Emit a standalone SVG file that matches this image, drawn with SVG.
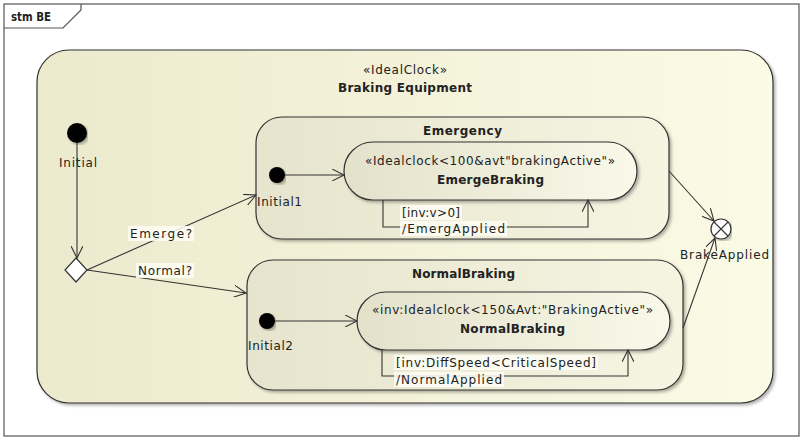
<svg xmlns="http://www.w3.org/2000/svg" width="804" height="440" viewBox="0 0 804 440">
<style>
text{font-family:"DejaVu Sans","Liberation Sans",sans-serif;font-size:12px;fill:#222}
.b{font-weight:bold}
.st{stroke:#333;stroke-width:1.2}
.ln{fill:none;stroke:#333;stroke-width:1.1}
.lbl{fill:#fdfdf4;opacity:0.85}
</style>
<defs>
<linearGradient id="gOuter" x1="0" y1="0" x2="1" y2="0">
<stop offset="0" stop-color="#eceacd"/><stop offset="1" stop-color="#fbfbe6"/>
</linearGradient>
<linearGradient id="gComp" x1="0" y1="0" x2="1" y2="0">
<stop offset="0" stop-color="#e6e4cc"/><stop offset="1" stop-color="#f6f5e2"/>
</linearGradient>
<linearGradient id="gSimple" x1="0" y1="0" x2="1" y2="0">
<stop offset="0" stop-color="#e3e1ca"/><stop offset="1" stop-color="#f9f9ea"/>
</linearGradient>
<filter id="sh" x="-5%" y="-5%" width="110%" height="115%">
<feDropShadow dx="2" dy="2" stdDeviation="1.5" flood-color="#000" flood-opacity="0.3"/>
</filter>
<marker id="arr" markerWidth="14" markerHeight="12" refX="12" refY="6" orient="auto" markerUnits="userSpaceOnUse">
<path d="M0,0 L12,6 L0,12" fill="none" stroke="#333" stroke-width="1.1"/>
</marker>
</defs>
<rect x="0" y="0" width="804" height="440" fill="#fff"/>
<g id="frame">
<rect x="4" y="4" width="795" height="432" fill="#fff" stroke="#555" stroke-width="1.2"/>
<path d="M4,28 H63 L81,10 V4" fill="none" stroke="#555" stroke-width="1.2"/>
<text x="11" y="21" class="b" textLength="40" lengthAdjust="spacingAndGlyphs">stm BE</text>
</g>
<g id="BrakingEquipment">
<rect x="37" y="50" width="736" height="353" rx="32" ry="32" fill="url(#gOuter)" class="st" filter="url(#sh)"/>
<text x="363" y="74" textLength="84">«IdealClock»</text>
<text x="338" y="92" class="b" textLength="134">Braking Equipment</text>
</g>
<g id="Initial">
<circle cx="77" cy="133" r="10" fill="#000" filter="url(#sh)"/>
<text x="59" y="167" textLength="38">Initial</text>
</g>
<g id="Decision">
<path d="M76,258 L87,270 L76,282 L65,270 Z" fill="#fff" class="st"/>
</g>
<g id="Emergency">
<rect x="256" y="117" width="413" height="122" rx="26" ry="26" fill="url(#gComp)" class="st" filter="url(#sh)"/>
<text x="423" y="135" class="b" textLength="79">Emergency</text>
</g>
<g id="EmergeBraking">
<rect x="344" y="142" width="293" height="58" rx="29" ry="29" fill="url(#gSimple)" class="st" filter="url(#sh)"/>
<text x="365" y="165" textLength="250">«Idealclock&lt;100&amp;avt"brakingActive"»</text>
<text x="437" y="184" class="b" textLength="107">EmergeBraking</text>
</g>
<g id="Initial1">
<circle cx="277" cy="175" r="8" fill="#000" filter="url(#sh)"/>
<text x="257" y="206" textLength="45">Initial1</text>
</g>
<g id="NormalBrakingComposite">
<rect x="247" y="260" width="436" height="130" rx="26" ry="26" fill="url(#gComp)" class="st" filter="url(#sh)"/>
<text x="412" y="278" class="b" textLength="103">NormalBraking</text>
</g>
<g id="NormalBraking">
<rect x="357" y="292" width="313" height="58" rx="29" ry="29" fill="url(#gSimple)" class="st" filter="url(#sh)"/>
<text x="372" y="314" textLength="281">«inv:Idealclock&lt;150&amp;Avt:"BrakingActive"»</text>
<text x="460" y="333" class="b" textLength="105">NormalBraking</text>
</g>
<g id="Initial2">
<circle cx="267" cy="321" r="8" fill="#000" filter="url(#sh)"/>
<text x="248" y="350" textLength="45">Initial2</text>
</g>
<g id="BrakeApplied">
<circle cx="721" cy="229" r="10" fill="#fff" class="st" filter="url(#sh)"/>
<path d="M714,222 L728,236 M728,222 L714,236" class="ln"/>
<text x="680" y="259" textLength="89">BrakeApplied</text>
</g>
<g id="connectors">
<path d="M77,143 V258" class="ln" marker-end="url(#arr)"/>
<path d="M87,270 L256,195" class="ln" marker-end="url(#arr)"/>
<rect x="128" y="226" width="66" height="15" class="lbl"/>
<text x="130" y="238" textLength="62">Emerge?</text>
<path d="M87,270 L246,293" class="ln" marker-end="url(#arr)"/>
<rect x="136" y="263" width="58" height="15" class="lbl"/>
<text x="138" y="275" textLength="54">Normal?</text>
<path d="M285,175 H344" class="ln" marker-end="url(#arr)"/>
<path d="M275,321 H357" class="ln" marker-end="url(#arr)"/>
<path d="M383,200 V227 H588 V200" class="ln" marker-end="url(#arr)"/>
<rect x="400" y="205" width="62" height="15" class="lbl"/>
<text x="402" y="217" textLength="58">[inv:v&gt;0]</text>
<rect x="400" y="221" width="107" height="15" class="lbl"/>
<text x="402" y="233" textLength="103">/EmergApplied</text>
<path d="M382,350 V376 H628 V350" class="ln" marker-end="url(#arr)"/>
<rect x="394" y="355" width="204" height="15" class="lbl"/>
<text x="396" y="367" textLength="200">[inv:DiffSpeed&lt;CriticalSpeed]</text>
<rect x="394" y="372" width="110" height="15" class="lbl"/>
<text x="396" y="384" textLength="106">/NormalApplied</text>
<path d="M669,171 L714,221" class="ln" marker-end="url(#arr)"/>
<path d="M683,328 L715,238" class="ln" marker-end="url(#arr)"/>
</g>
</svg>
